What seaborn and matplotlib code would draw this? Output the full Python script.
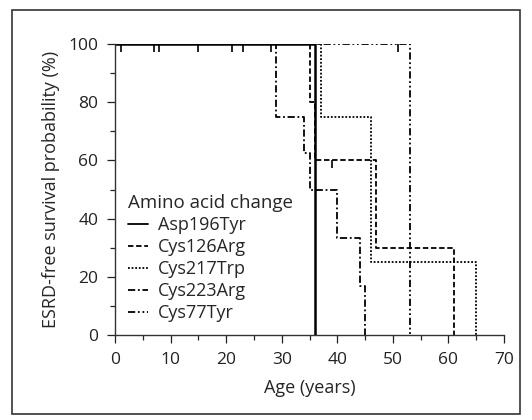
import numpy as np
import pandas as pd
import matplotlib
matplotlib.use("Agg")
import matplotlib.pyplot as plt
from matplotlib.ticker import MultipleLocator
import seaborn as sns

# step points (age in years, survival %) per amino acid change
groups = ["Asp196Tyr", "Cys126Arg", "Cys217Trp", "Cys223Arg", "Cys77Tyr"]
asp196tyr_age = [0, 36]
asp196tyr_surv = [100, 0]
cys126arg_age = [0, 35, 36, 47, 61]
cys126arg_surv = [100, 80, 60, 30, 0]
cys217trp_age = [0, 37, 46, 65]
cys217trp_surv = [100, 75, 25, 0]
cys223arg_age = [0, 29, 34, 35, 40, 44, 45]
cys223arg_surv = [100, 75, 62.5, 50, 33.3, 16.7, 0]
cys77tyr_age = [0, 53]
cys77tyr_surv = [100, 0]

# censored observations
censor_age = [1, 7, 8, 15, 21, 23, 28, 51, 39]
censor_surv = [100, 100, 100, 100, 100, 100, 100, 100, 60]

series = {
    "Asp196Tyr": (asp196tyr_age, asp196tyr_surv),
    "Cys126Arg": (cys126arg_age, cys126arg_surv),
    "Cys217Trp": (cys217trp_age, cys217trp_surv),
    "Cys223Arg": (cys223arg_age, cys223arg_surv),
    "Cys77Tyr": (cys77tyr_age, cys77tyr_surv),
}
rows = []
for g in groups:
    ages, surv = series[g]
    for a, s in zip(ages, surv):
        rows.append({"change": g, "age": a, "surv": s})
df = pd.DataFrame(rows)

sns.set_style("ticks")
plt.rcParams["font.family"] = ["Open Sans", "DejaVu Sans"]

fig = plt.figure(figsize=(5.32, 4.2), dpi=100)
ax = fig.add_axes([115 / 532, 1 - 335 / 420, 389 / 532, 291 / 420])

dashes = {
    "Asp196Tyr": "",
    "Cys126Arg": (3, 1.5),
    "Cys217Trp": (1, 1),
    "Cys223Arg": (4, 1.5, 1, 1.5),
    "Cys77Tyr": (4, 1.5, 1, 1.5, 1, 1.5),
}
sns.lineplot(data=df, x="age", y="surv", style="change", style_order=groups,
             dashes=dashes, color="black", drawstyle="steps-post",
             estimator=None, sort=False, linewidth=1.3, ax=ax)
ax.lines[0].set_linewidth(1.8)
sns.scatterplot(x=censor_age, y=censor_surv, marker=3, color="black",
                s=30, linewidth=1.2, legend=False, ax=ax, zorder=3)

ax.set_xlim(0, 70)
ax.set_ylim(0, 100)
ax.xaxis.set_major_locator(MultipleLocator(10))
ax.xaxis.set_minor_locator(MultipleLocator(5))
ax.yaxis.set_major_locator(MultipleLocator(20))
ax.yaxis.set_minor_locator(MultipleLocator(10))
ax.tick_params(which="major", length=6, width=0.9, labelsize=12.5,
               colors="#222222", pad=6)
ax.tick_params(which="minor", length=3.5, width=0.9)
for sp in ["top", "right"]:
    ax.spines[sp].set_visible(False)
for sp in ["left", "bottom"]:
    ax.spines[sp].set_linewidth(1.0)
    ax.spines[sp].set_color("#333333")

ax.set_xlabel("Age (years)", fontsize=13, labelpad=8)
ax.set_ylabel("ESRD-free survival probability (%)", fontsize=13, labelpad=6)

handles, labels = ax.get_legend_handles_labels()
for h in handles:
    h.set_linewidth(1.3)
leg = ax.legend(handles, labels, title="Amino acid change", loc="lower left",
                bbox_to_anchor=(0.0, 0.0), frameon=False, fontsize=13,
                title_fontsize=13.5, handlelength=1.15, handletextpad=0.55,
                labelspacing=0.22, alignment="left", borderaxespad=0.3)

# figure border
fig.patches.append(plt.Rectangle((12 / 532, 6 / 420), 508 / 532, 404 / 420,
                                 transform=fig.transFigure, fill=False,
                                 edgecolor="#333333", linewidth=1.2))

fig.savefig("out.png", dpi=100)
